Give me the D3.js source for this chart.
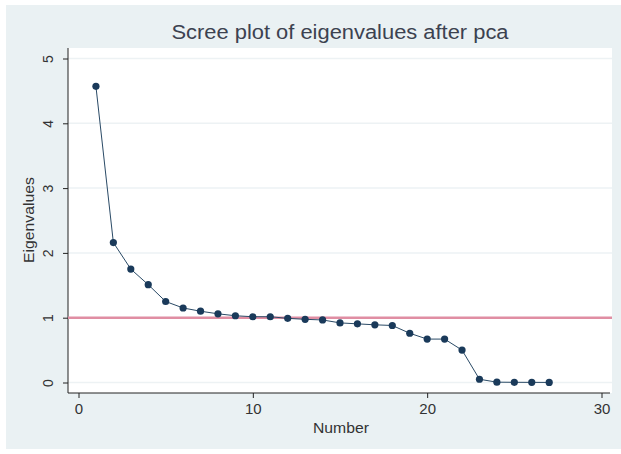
<!DOCTYPE html>
<html>
<head>
<meta charset="utf-8">
<script src="https://cdn.jsdelivr.net/npm/d3@7"></script>
<style>
  body { margin: 0; background: #fff; }
  text { font-family: "Liberation Sans", Arial, sans-serif; }
</style>
</head>
<body>
<div id="chart"></div>
<script>
// eigenvalues
var numbers = [1, 2, 3, 4, 5, 6, 7, 8, 9, 10, 11, 12, 13, 14, 15, 16, 17, 18, 19, 20, 21, 22, 23, 24, 25, 26, 27];
var eigenvalues = [4.57, 2.16, 1.75, 1.51, 1.25, 1.15, 1.10, 1.06, 1.03, 1.015, 1.015, 0.99, 0.975, 0.965, 0.92, 0.905, 0.89, 0.88, 0.76, 0.67, 0.67, 0.50, 0.05, 0.005, 0.003, 0.002, 0.001];
var xTicks = [0, 10, 20, 30];
var yTicks = [0, 1, 2, 3, 4, 5];
var refLine = 1;

var W = 621, H = 454;
var plot = {left: 68, top: 48, right: 612, bottom: 393};

var svg = d3.select("#chart").append("svg")
    .attr("width", W)
    .attr("height", H);

// outer background
svg.append("rect")
    .attr("x", 6).attr("y", 5)
    .attr("width", W - 6).attr("height", H - 10)
    .attr("fill", "#eaf1f3");

// plot region
svg.append("rect")
    .attr("x", plot.left).attr("y", plot.top)
    .attr("width", plot.right - plot.left)
    .attr("height", plot.bottom - plot.top)
    .attr("fill", "#ffffff");

var x = d3.scaleLinear().domain([0, 30]).range([78.5, 601.5]);
var y = d3.scaleLinear().domain([0, 5]).range([382.5, 58.5]);

// grid
svg.append("g")
    .selectAll("line")
    .data(yTicks)
    .enter()
    .append("line")
    .attr("x1", plot.left).attr("x2", plot.right)
    .attr("y1", d => y(d)).attr("y2", d => y(d))
    .attr("stroke", "#edf2f4")
    .attr("stroke-width", 1.5);

// y axis, labels rotated like stata
var yAxis = svg.append("g")
    .attr("transform", "translate(" + plot.left + ",0)")
    .call(d3.axisLeft(y).tickValues(yTicks).tickFormat(d3.format("d")).tickSize(5));
yAxis.select(".domain").attr("d", "M0," + plot.top + "V" + plot.bottom).attr("stroke", "#222");
yAxis.selectAll(".tick line").attr("stroke", "#222");
yAxis.selectAll(".tick text")
    .attr("font-size", 14)
    .attr("fill", "#333")
    .attr("font-family", "Liberation Sans, Arial, sans-serif")
    .attr("transform", "rotate(-90)")
    .attr("x", 0)
    .attr("y", -20)
    .attr("dy", "0.35em")
    .attr("text-anchor", "middle");

// x axis
var xAxis = svg.append("g")
    .attr("transform", "translate(0," + plot.bottom + ")")
    .call(d3.axisBottom(x).tickValues(xTicks).tickSize(5).tickPadding(5));
xAxis.select(".domain").attr("d", "M" + plot.left + ",0H610").attr("stroke", "#222");
xAxis.selectAll(".tick line").attr("stroke", "#222");
xAxis.selectAll(".tick text")
    .attr("font-size", 15)
    .attr("fill", "#333")
    .attr("font-family", "Liberation Sans, Arial, sans-serif");

// reference line at eigenvalue 1
svg.append("line")
    .attr("x1", plot.left).attr("x2", plot.right)
    .attr("y1", y(refLine)).attr("y2", y(refLine))
    .attr("stroke", "#e08ea3")
    .attr("stroke-width", 2.5);

// connecting line
var line = d3.line()
    .x((d, i) => x(numbers[i]))
    .y(d => y(d));
svg.append("path")
    .datum(eigenvalues)
    .attr("d", line)
    .attr("fill", "none")
    .attr("stroke", "#2a4a66")
    .attr("stroke-width", 1);

// markers
svg.append("g")
    .selectAll("circle")
    .data(eigenvalues)
    .enter()
    .append("circle")
    .attr("cx", (d, i) => x(numbers[i]))
    .attr("cy", d => y(d))
    .attr("r", 3.6)
    .attr("fill", "#1a3a5a");

// title
svg.append("text")
    .attr("x", 340).attr("y", 39)
    .attr("text-anchor", "middle")
    .attr("font-size", 20)
    .attr("fill", "#3c4250")
    .attr("textLength", 337)
    .attr("lengthAdjust", "spacingAndGlyphs")
    .text("Scree plot of eigenvalues after pca");

// axis titles
svg.append("text")
    .attr("x", 341).attr("y", 433)
    .attr("text-anchor", "middle")
    .attr("font-size", 15)
    .attr("fill", "#333")
    .attr("textLength", 56)
    .attr("lengthAdjust", "spacingAndGlyphs")
    .text("Number");

svg.append("text")
    .attr("transform", "translate(34,220) rotate(-90)")
    .attr("text-anchor", "middle")
    .attr("font-size", 15)
    .attr("fill", "#333")
    .attr("textLength", 86)
    .attr("lengthAdjust", "spacingAndGlyphs")
    .text("Eigenvalues");
</script>
</body>
</html>
